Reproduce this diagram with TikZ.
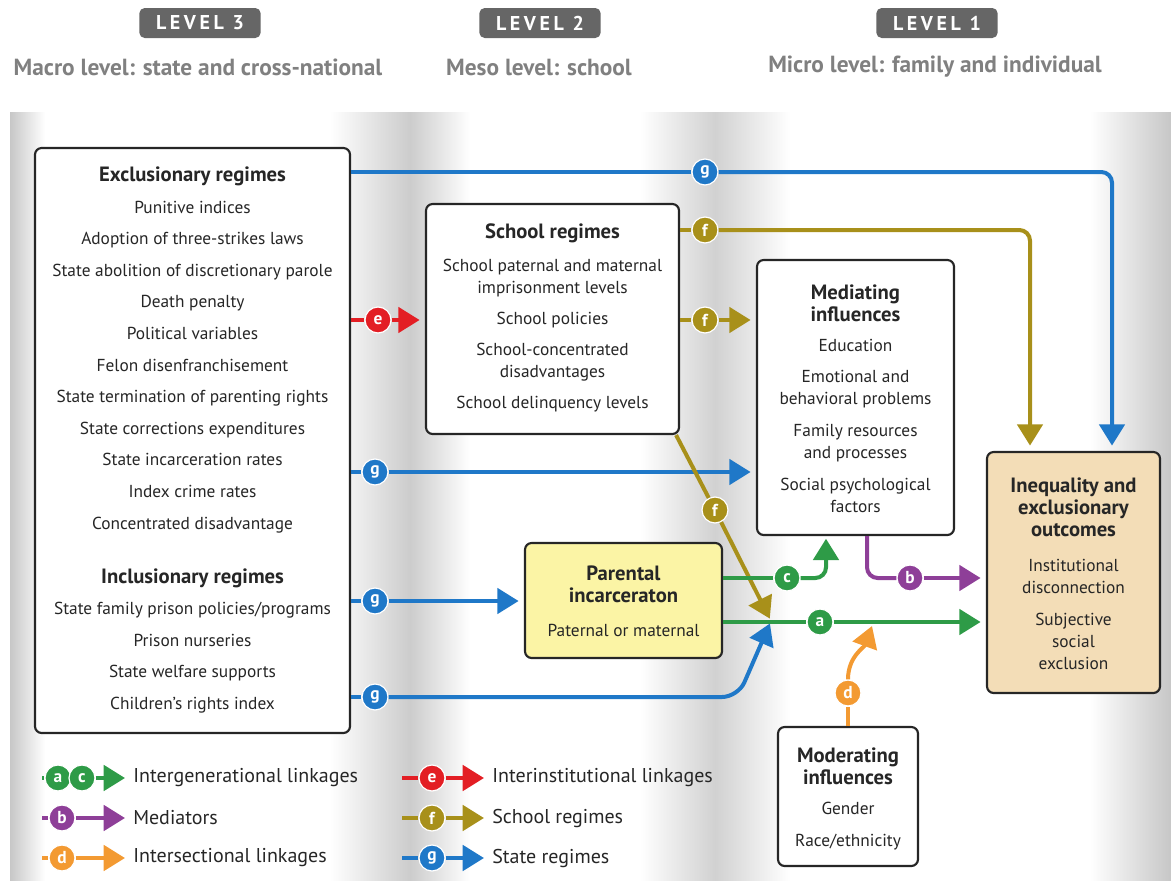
\documentclass[tikz,border=0pt]{standalone}
\usepackage{fontspec}
\setmainfont{PT Sans}
\usetikzlibrary{arrows.meta}

\definecolor{cblue}{HTML}{1F78C8}
\definecolor{cred}{HTML}{E31E24}
\definecolor{colive}{HTML}{A8901A}
\definecolor{cgreen}{HTML}{2E9B47}
\definecolor{cpurple}{HTML}{8E3F98}
\definecolor{corange}{HTML}{F39A32}
\definecolor{cyellow}{HTML}{FBF4A5}
\definecolor{ctan}{HTML}{F3DDB7}

\newcommand{\hd}[1]{{\fontsize{15.5}{18.75}\selectfont\bfseries #1}}

\begin{document}
\begin{tikzpicture}[x=0.75pt, y=-0.75pt,
    box/.style={draw=black!85, line width=1.6pt, rounded corners=5pt, fill=white},
    txt/.style={align=center, inner sep=0pt, text=black!85, font=\fontsize{13}{16.5}\selectfont},
    lbl/.style={circle, fill=#1, draw=white, line width=0.9pt, text=white, inner sep=0pt, minimum size=19.5pt, font=\fontsize{13}{13}\selectfont\bfseries},
    link/.style={line width=3pt, draw=#1, -{Triangle[width=19pt,length=16pt]}},
    wire/.style={line width=3pt, draw=#1},
    badge/.style={fill=black!60, rounded corners=4pt, text=white, minimum width=91pt, minimum height=22.5pt, font=\fontsize{15}{15}\selectfont\bfseries\addfontfeatures{LetterSpace=18}},
    level/.style={text=black!50, font=\fontsize{17.5}{17.5}\selectfont\bfseries},
    key/.style={anchor=west, inner sep=0pt, text=black!85, font=\fontsize{15}{15}\selectfont}]

  \useasboundingbox (0,0) rectangle (1171,882);

  \shade[left color=black!22, right color=white] (10,112) rectangle (45,880);
  \shade[left color=white, right color=black!20] (330,112) rectangle (410,880);
  \shade[left color=black!20, right color=white] (410,112) rectangle (470,880);
  \shade[left color=white, right color=black!18] (640,112) rectangle (715,880);
  \shade[left color=black!18, right color=white] (715,112) rectangle (790,880);
  \shade[left color=white, right color=black!22] (1090,112) rectangle (1171,880);

  \node[badge] (lv3) at (200,23) {LEVEL 3};
  \node[badge] (lv2) at (540,23) {LEVEL 2};
  \node[badge] (lv1) at (937,23) {LEVEL 1};
  \node[level] (mac) at (198,67) {Macro level: state and cross-national};
  \node[level] (mes) at (539,67) {Meso level: school};
  \node[level] (mic) at (935,67) {Micro level: family and individual};

  \node[box, minimum width=236.25pt, minimum height=438.75pt] (excl) at (192.5,440.5) {};
  \node[box, minimum width=189.75pt, minimum height=172.5pt] (sch) at (552.5,319) {};
  \node[box, minimum width=147.75pt, minimum height=206.25pt] (med) at (855.5,397.5) {};
  \node[box, fill=cyellow, minimum width=147.75pt, minimum height=86.25pt] (par) at (623.5,600.5) {};
  \node[box, fill=ctan, minimum width=129.75pt, minimum height=180.75pt] (out) at (1073.5,572.5) {};
  \node[box, minimum width=105pt, minimum height=104.25pt] (mod) at (848,796.5) {};

  \node[txt, font=\fontsize{13}{23.7}\selectfont] (exclt) at (192.5,440) {\hd{Exclusionary regimes}\\Punitive indices\\Adoption of three-strikes laws\\State abolition of discretionary parole\\Death penalty\\Political variables\\Felon disenfranchisement\\State termination of parenting rights\\State corrections expenditures\\State incarceration rates\\Index crime rates\\Concentrated disadvantage\\[16.8pt]\hd{Inclusionary regimes}\\State family prison policies/programs\\Prison nurseries\\State welfare supports\\Children’s rights index};
  \node[txt] (scht) at (552.5,318) {\hd{School regimes}\\[8.2pt]School paternal and maternal\\imprisonment levels\\[6.8pt]School policies\\[6.8pt]School-concentrated\\disadvantages\\[6.8pt]School delinquency levels};
  \node[txt] (medt) at (855.5,399) {\hd{Mediating}\\\hd{influences}\\[6pt]Education\\[6.8pt]Emotional and\\behavioral problems\\[7.5pt]Family resources\\and processes\\[7.5pt]Social psychological\\factors};
  \node[txt] (part) at (623.5,601.5) {\hd{Parental}\\\hd{incarceraton}\\[9pt]Paternal or maternal};
  \node[txt] (outt) at (1073.5,574) {\hd{Inequality and}\\\hd{exclusionary}\\\hd{outcomes}\\[10pt]Institutional\\disconnection\\[7.5pt]Subjective\\social\\exclusion};
  \node[txt] (modt) at (848,799) {\hd{Moderating}\\\hd{influences}\\[6.5pt]Gender\\[7.5pt]Race/ethnicity};

  \node[lbl=cblue] (gTop) at (705,172) {g};
  \node[lbl=cred] (eR) at (378,320) {e};
  \node[lbl=colive] (fTop) at (705,230) {f};
  \node[lbl=colive] (fMid) at (705,320) {f};
  \node[lbl=cblue] (gMed) at (375,472) {g};
  \node[lbl=colive] (fDiag) at (715,510) {f};
  \node[lbl=cblue] (gPar) at (375,601) {g};
  \node[lbl=cblue] (gLow) at (375,697) {g};
  \node[lbl=cgreen] (cG) at (787,578) {c};
  \node[lbl=cgreen] (aG) at (820,622) {a};
  \node[lbl=cpurple] (bP) at (910,578) {b};
  \node[lbl=corange] (dO) at (848,693) {d};

  \coordinate (gx) at (1112,0);
  \coordinate (fx) at (1030,0);
  \coordinate (cx) at (826,0);
  \coordinate (bx) at (867,0);
  \coordinate (hub) at (771,621);
  \coordinate (bend) at (738,697);
  \coordinate (dEnd) at (872,626);

  \draw[wire=cblue] (excl.east |- gTop) -- (gTop);
  \draw[link=cblue, rounded corners=8pt, shorten >=4pt] (gTop) -| (gx |- out.north);
  \draw[wire=cred] (excl.east |- eR) -- (eR);
  \draw[link=cred, shorten >=4pt] (eR) -- (sch.west |- eR);
  \draw[wire=colive] (sch.east |- fTop) -- (fTop);
  \draw[link=colive, rounded corners=8pt, shorten >=4pt] (fTop) -| (fx |- out.north);
  \draw[wire=colive] (sch.east |- fMid) -- (fMid);
  \draw[link=colive, shorten >=4pt] (fMid) -- (med.west |- fMid);
  \draw[wire=cblue] (excl.east |- gMed) -- (gMed);
  \draw[link=cblue, shorten >=4pt] (gMed) -- (med.west |- gMed);
  \draw[wire=colive] ([xshift=-3pt]sch.south east) -- (fDiag);
  \draw[link=colive, shorten >=2pt] (fDiag) -- (hub);
  \draw[wire=cblue] (excl.east |- gPar) -- (gPar);
  \draw[link=cblue, shorten >=4pt] (gPar) -- (par.west |- gPar);
  \draw[wire=cblue] (excl.east |- gLow) -- (gLow);
  \draw[link=cblue, rounded corners=12pt, shorten >=2pt] (gLow) -- (bend) -- (hub);
  \draw[wire=cgreen] (par.east |- cG) -- (cG);
  \draw[link=cgreen, rounded corners=8pt, shorten >=2pt] (cG) -| (cx |- med.south);
  \draw[wire=cgreen] (par.east |- aG) -- (aG);
  \draw[link=cgreen, shorten >=4pt] (aG) -- (out.west |- aG);
  \draw[wire=cpurple, rounded corners=8pt] (bx |- med.south) |- (bP);
  \draw[link=cpurple, shorten >=4pt] (bP) -- (out.west |- bP);
  \draw[wire=corange] (mod.north) -- (dO);
  \draw[link=corange] (dO) to[out=90, in=250] (dEnd);

  \node[key] (tInter) at (133,778) {Intergenerational linkages};
  \node[key] (tMed) at (133,818) {Mediators};
  \node[key] (tSec) at (133,858) {Intersectional linkages};
  \node[key] (tInst) at (492,778) {Interinstitutional linkages};
  \node[key] (tSch) at (492,818) {School regimes};
  \node[key] (tSta) at (492,858) {State regimes};

  \node[lbl=cgreen] (kA) at (58,778) {a};
  \node[lbl=cgreen] (kC) at (82,778) {c};
  \node[lbl=cpurple] (kB) at (62,818) {b};
  \node[lbl=corange] (kD) at (62,858) {d};
  \node[lbl=cred] (kE) at (432,778) {e};
  \node[lbl=colive] (kF) at (432,818) {f};
  \node[lbl=cblue] (kG) at (432,858) {g};

  \coordinate (s1) at (42,778);
  \coordinate (s2) at (42,818);
  \coordinate (s3) at (42,858);
  \coordinate (s4) at (402,778);
  \coordinate (s5) at (402,818);
  \coordinate (s6) at (402,858);

  \draw[wire=cgreen] (s1) -- (kA);
  \draw[link=cgreen, shorten >=6pt] (kC) -- (tInter.west);
  \draw[wire=cpurple] (s2) -- (kB);
  \draw[link=cpurple, shorten >=6pt] (kB) -- (tMed.west);
  \draw[wire=corange] (s3) -- (kD);
  \draw[link=corange, shorten >=6pt] (kD) -- (tSec.west);
  \draw[wire=cred] (s4) -- (kE);
  \draw[link=cred, shorten >=6pt] (kE) -- (tInst.west);
  \draw[wire=colive] (s5) -- (kF);
  \draw[link=colive, shorten >=6pt] (kF) -- (tSch.west);
  \draw[wire=cblue] (s6) -- (kG);
  \draw[link=cblue, shorten >=6pt] (kG) -- (tSta.west);
\end{tikzpicture}
\end{document}
